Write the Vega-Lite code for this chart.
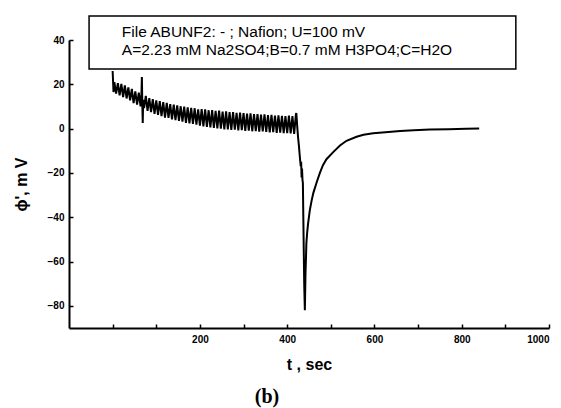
{
  "$schema": "https://vega.github.io/schema/vega-lite/v6.json",
  "width": 480,
  "height": 288,
  "autosize": {"type": "none"},
  "padding": {"left": 69, "top": 40, "right": 12, "bottom": 80},
  "background": "white",
  "config": {
    "view": {"stroke": null},
    "font": "Liberation Sans",
    "axis": {
      "grid": false,
      "domainColor": "black",
      "domainWidth": 2,
      "tickColor": "black",
      "tickWidth": 1.5,
      "tickSize": -4,
      "labelFont": "Liberation Sans",
      "labelFontWeight": "bold",
      "labelFontSize": 10,
      "labelColor": "black",
      "titleFont": "Liberation Sans",
      "titleFontWeight": "bold",
      "titleFontSize": 16,
      "titleColor": "black"
    }
  },
  "title": {
    "text": "(b)",
    "orient": "bottom",
    "anchor": "middle",
    "dx": -42,
    "offset": 15,
    "font": "Liberation Serif",
    "fontSize": 20,
    "fontWeight": "bold",
    "color": "black"
  },
  "datasets": {
    "series": [
      {"t": 0, "v": 26}, {"t": 2, "v": 16.5}, {"t": 4, "v": 21}, {"t": 8, "v": 15.8}, {"t": 12, "v": 20.5},
      {"t": 16, "v": 15}, {"t": 20, "v": 20.2}, {"t": 24, "v": 14.2}, {"t": 28, "v": 19.5}, {"t": 32, "v": 13.6},
      {"t": 36, "v": 18.6}, {"t": 40, "v": 12.8}, {"t": 44, "v": 17.9}, {"t": 48, "v": 11.5}, {"t": 52, "v": 16.8},
      {"t": 56, "v": 10.8}, {"t": 60, "v": 16.2}, {"t": 64, "v": 10}, {"t": 66, "v": 15.5}, {"t": 67, "v": 23.3},
      {"t": 68, "v": 11}, {"t": 69, "v": 2.5}, {"t": 70, "v": 13}, {"t": 72, "v": 9.2}, {"t": 76, "v": 14.8},
      {"t": 80, "v": 8}, {"t": 84, "v": 13.8}, {"t": 88, "v": 7.4}, {"t": 92, "v": 13.3}, {"t": 96, "v": 6.6},
      {"t": 100, "v": 12.8}, {"t": 104, "v": 6.2}, {"t": 108, "v": 12.4}, {"t": 112, "v": 5.6}, {"t": 116, "v": 12},
      {"t": 120, "v": 5}, {"t": 124, "v": 11.6}, {"t": 128, "v": 4.8}, {"t": 132, "v": 11.1}, {"t": 136, "v": 4.2},
      {"t": 140, "v": 10.8}, {"t": 144, "v": 3.8}, {"t": 148, "v": 10.5}, {"t": 152, "v": 3.5}, {"t": 156, "v": 10.1},
      {"t": 160, "v": 3.2}, {"t": 164, "v": 9.9}, {"t": 168, "v": 2.6}, {"t": 172, "v": 9.6}, {"t": 176, "v": 2.4},
      {"t": 180, "v": 9.4}, {"t": 184, "v": 2.1}, {"t": 188, "v": 9.2}, {"t": 192, "v": 1.8}, {"t": 196, "v": 8.7},
      {"t": 200, "v": 1.3}, {"t": 204, "v": 8.8}, {"t": 208, "v": 1.0}, {"t": 212, "v": 8.7}, {"t": 216, "v": 0.8},
      {"t": 220, "v": 8.3}, {"t": 224, "v": 0.5}, {"t": 228, "v": 8.4}, {"t": 232, "v": 0.3}, {"t": 236, "v": 8.0},
      {"t": 240, "v": 0.1}, {"t": 244, "v": 8.1}, {"t": 248, "v": 0.0}, {"t": 252, "v": 7.7}, {"t": 256, "v": -0.3},
      {"t": 260, "v": 7.8}, {"t": 264, "v": -0.4}, {"t": 268, "v": 7.4}, {"t": 272, "v": -0.6}, {"t": 276, "v": 7.5},
      {"t": 280, "v": -0.5}, {"t": 284, "v": 7.1}, {"t": 288, "v": -0.8}, {"t": 292, "v": 7.2}, {"t": 296, "v": -0.7},
      {"t": 300, "v": 7.0}, {"t": 304, "v": -1.0}, {"t": 308, "v": 6.8}, {"t": 312, "v": -0.9}, {"t": 316, "v": 6.9},
      {"t": 320, "v": -1.2}, {"t": 324, "v": 6.5}, {"t": 328, "v": -1.1}, {"t": 332, "v": 6.6}, {"t": 336, "v": -1.4},
      {"t": 340, "v": 6.3}, {"t": 344, "v": -1.3}, {"t": 348, "v": 6.4}, {"t": 352, "v": -1.5}, {"t": 356, "v": 6.1},
      {"t": 360, "v": -1.7}, {"t": 364, "v": 6.2}, {"t": 368, "v": -1.6}, {"t": 372, "v": 5.9}, {"t": 376, "v": -1.9},
      {"t": 380, "v": 6.0}, {"t": 384, "v": -1.8}, {"t": 388, "v": 5.8}, {"t": 392, "v": -2.1}, {"t": 396, "v": 5.7},
      {"t": 400, "v": -2.0}, {"t": 404, "v": 5.9}, {"t": 408, "v": -2.2}, {"t": 412, "v": 5.6}, {"t": 416, "v": -2.4},
      {"t": 420, "v": 6.5}, {"t": 421, "v": 7}, {"t": 423, "v": 1}, {"t": 425, "v": -4}, {"t": 427, "v": -8},
      {"t": 429, "v": -12.7}, {"t": 431, "v": -17}, {"t": 432, "v": -15}, {"t": 433, "v": -22}, {"t": 434, "v": -18},
      {"t": 435, "v": -23}, {"t": 436, "v": -24.6}, {"t": 437, "v": -40}, {"t": 439, "v": -70}, {"t": 440.5, "v": -82},
      {"t": 442, "v": -65}, {"t": 443, "v": -59}, {"t": 444, "v": -51.6}, {"t": 446, "v": -46.5}, {"t": 448, "v": -42.7},
      {"t": 452, "v": -36.7}, {"t": 456, "v": -32.5}, {"t": 460, "v": -29}, {"t": 468, "v": -24}, {"t": 475, "v": -20},
      {"t": 482, "v": -16.5}, {"t": 490, "v": -13.8}, {"t": 506, "v": -10.5}, {"t": 521, "v": -7.6}, {"t": 536, "v": -5.5},
      {"t": 559, "v": -3.7}, {"t": 575, "v": -2.8}, {"t": 597, "v": -2.1}, {"t": 625, "v": -1.6}, {"t": 659, "v": -1.1},
      {"t": 690, "v": -0.7}, {"t": 727, "v": -0.4}, {"t": 770, "v": -0.3}, {"t": 810, "v": -0.1}, {"t": 840, "v": 0}
    ],
    "box": [{"x1": -54, "x2": 924, "y1": 50.8, "y2": 26.9}],
    "notes": [
      {"t": 21, "v": 43.8, "label": "File ABUNF2: - ; Nafion; U=100 mV"},
      {"t": 21, "v": 35.6, "label": "A=2.23 mM Na2SO4;B=0.7 mM H3PO4;C=H2O"}
    ]
  },
  "layer": [
    {
      "data": {"name": "series"},
      "mark": {"type": "line", "color": "black", "strokeWidth": 2, "interpolate": "linear"},
      "encoding": {
        "x": {
          "field": "t", "type": "quantitative",
          "scale": {"domain": [-100, 1000], "nice": false, "zero": false},
          "axis": {
            "title": "t , sec",
            "values": [0, 100, 200, 300, 400, 500, 600, 700, 800, 900, 1000],
            "labelExpr": "datum.value % 200 == 0 && datum.value > 0 ? datum.label : ''",
            "labelPadding": 10,
            "titlePadding": 12,
            "format": "d"
          }
        },
        "y": {
          "field": "v", "type": "quantitative",
          "scale": {"domain": [-90, 40], "nice": false, "zero": false},
          "axis": {
            "title": "ϕ', m V",
            "values": [-80, -70, -60, -50, -40, -30, -20, -10, 0, 10, 20, 30, 40],
            "labelExpr": "datum.value % 20 == 0 ? datum.label : ''",
            "labelPadding": 9,
            "titlePadding": 18,
            "format": "d"
          }
        }
      }
    },
    {
      "data": {"name": "box"},
      "mark": {"type": "rect", "fill": "white", "fillOpacity": 0, "stroke": "black", "strokeWidth": 1.5},
      "encoding": {
        "x": {"field": "x1", "type": "quantitative"},
        "x2": {"field": "x2"},
        "y": {"field": "y1", "type": "quantitative"},
        "y2": {"field": "y2"}
      }
    },
    {
      "data": {"name": "notes"},
      "mark": {"type": "text", "align": "left", "baseline": "middle", "font": "Liberation Sans", "fontSize": 15.5, "color": "black"},
      "encoding": {
        "x": {"field": "t", "type": "quantitative"},
        "y": {"field": "v", "type": "quantitative"},
        "text": {"field": "label"}
      }
    }
  ]
}
